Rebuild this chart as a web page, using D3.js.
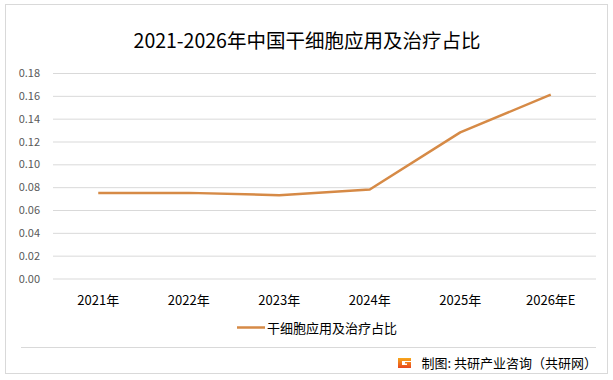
<!DOCTYPE html>
<html><head><meta charset="utf-8">
<script src="https://cdn.jsdelivr.net/npm/d3@7/dist/d3.min.js"></script>
<style>body{margin:0;background:#fff;}svg{display:block;font-family:"Noto Sans CJK SC","Microsoft YaHei",sans-serif;}</style>
</head><body><svg id="c" width="613" height="380"></svg>
<script>
const categories = ["2021年","2022年","2023年","2024年","2025年","2026年E"];
const values = [0.075, 0.075, 0.073, 0.078, 0.128, 0.161];
const yTicks = [0,0.02,0.04,0.06,0.08,0.10,0.12,0.14,0.16,0.18];
const title = "2021-2026年中国干细胞应用及治疗占比";
const seriesName = "干细胞应用及治疗占比";
const source = "制图: 共研产业咨询（共研网）";

const svg = d3.select("#c");
const m = {left:53, right:596, top:73, bottom:278.5};
const color = "#D68A46";

svg.append("rect").attr("x",5.5).attr("y",4.5).attr("width",602).attr("height",369)
  .attr("fill","#fff").attr("stroke","#D9D9D9").attr("stroke-width",1);

svg.append("text").attr("x",307).attr("y",48).attr("text-anchor","middle")
  .attr("font-size",19.5).attr("fill","#000").text(title);

const x = d3.scaleBand().domain(categories).range([m.left, m.right]);
const y = d3.scaleLinear().domain([0,0.18]).range([m.bottom, m.top]);

const yAxis = svg.append("g").attr("transform",`translate(${m.left},0)`)
  .call(d3.axisLeft(y).tickValues(yTicks).tickFormat(d3.format(".2f")).tickSize(-(m.right-m.left)).tickPadding(13));
yAxis.select(".domain").remove();
yAxis.selectAll(".tick line").attr("stroke","#D9D9D9").attr("stroke-width",1);
yAxis.selectAll(".tick text").attr("font-size",11).attr("fill","#595959").attr("font-family","Noto Sans CJK SC, sans-serif");

const xAxis = svg.append("g").attr("transform",`translate(0,${m.bottom})`)
  .call(d3.axisBottom(x).tickSize(0).tickPadding(17));
xAxis.select(".domain").remove();
xAxis.selectAll(".tick text").attr("font-size",13).attr("fill","#000").attr("font-family","Noto Sans CJK SC, sans-serif");

const line = d3.line().x((d,i)=>x(categories[i])+x.bandwidth()/2).y(d=>y(d));
svg.append("path").datum(values).attr("d",line).attr("fill","none")
  .attr("stroke",color).attr("stroke-width",2.5).attr("stroke-linejoin","round");

// legend
svg.append("line").attr("x1",237).attr("x2",265).attr("y1",327.5).attr("y2",327.5)
  .attr("stroke",color).attr("stroke-width",2.5);
svg.append("text").attr("x",267).attr("y",332.5).attr("font-size",13).attr("fill","#000").text(seriesName);

// separator
svg.append("line").attr("x1",21).attr("x2",596).attr("y1",347.5).attr("y2",347.5)
  .attr("stroke","#D9D9D9").attr("stroke-width",1);

// logo
const lg = svg.append("g").attr("transform","translate(398,357)");
const grad = svg.append("defs").append("linearGradient").attr("id","lgg").attr("x1",0).attr("y1",0).attr("x2",0).attr("y2",1);
grad.append("stop").attr("offset","0").attr("stop-color","#F7A81B");
grad.append("stop").attr("offset","1").attr("stop-color","#E8461E");
lg.append("path").attr("d","M0,1 L13,1 L13,4 L4,4 L4,8 L9,8 L9,6.5 L7,6.5 L7,5 L13,5 L13,11 L0,11 Z")
  .attr("fill","url(#lgg)");

svg.append("text").attr("x",597).attr("y",368).attr("text-anchor","end")
  .attr("font-size",13).attr("fill","#000").text(source);
</script></body></html>
